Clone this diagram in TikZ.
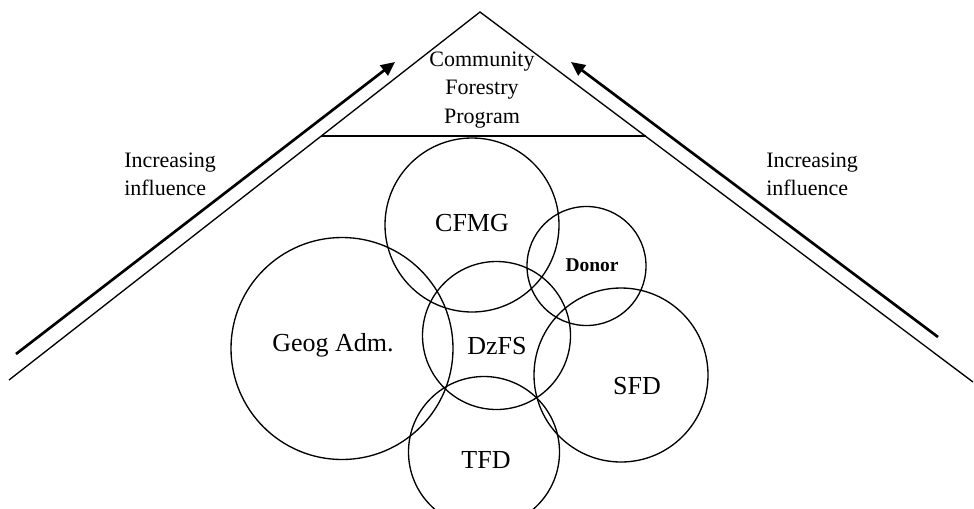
\documentclass[tikz,border=0pt]{standalone}
\usepackage{fontspec}
\setmainfont{Liberation Serif}
\usetikzlibrary{arrows.meta}
\begin{document}
\begin{tikzpicture}[x=0.75pt,y=-0.75pt,
  edge/.style={line width=1pt},
  influence/.style={line width=2pt,-{Triangle[length=10.5pt,width=9.5pt]}},
  actor/.style={circle,draw,line width=1pt,inner sep=0pt},
  actorlabel/.style={anchor=base,inner sep=0pt,font=\fontsize{19.5}{23}\selectfont},
  note/.style={anchor=west,inner sep=0pt,align=left,font=\fontsize{16.5}{21}\selectfont}]
\useasboundingbox (0,0) rectangle (974,508);
\clip (0,0) rectangle (974,508);

% pyramid outline and the program band at its top
\coordinate (apex) at (480,12);
\coordinate (baseL) at (9,380);
\coordinate (baseR) at (973,382);
\coordinate (bandL) at (321,136);
\coordinate (bandR) at (646,136);
\draw[edge] (baseL) -- (apex) -- (baseR);
\draw[edge] (bandL) -- (bandR);
\node[inner sep=0pt,align=center,font=\fontsize{16.5}{21.3}\selectfont] (cfp) at (482,90)
  {Community\\Forestry\\Program};

% influence arrows along both slopes
\coordinate (tailL) at (16,354);
\coordinate (tipL) at (395,62);
\coordinate (tailR) at (938,337);
\coordinate (tipR) at (571,62);
\draw[influence] (tailL) -- (tipL);
\draw[influence] (tailR) -- (tipR);
\node[note] (infL) at (124,174) {Increasing\\influence};
\node[note] (infR) at (766,174) {Increasing\\influence};

% overlapping actor circles
\node[actor,minimum size=130.5pt] (cfmg) at (472,225) {};
\node[actor,minimum size=89.25pt] (donor) at (586.5,266) {};
\node[actor,minimum size=166.5pt] (geog) at (342,348.5) {};
\node[actor,minimum size=111pt] (dzfs) at (496.5,335.5) {};
\node[actor,minimum size=130.5pt] (sfd) at (621,375) {};
\node[actor,minimum size=113.25pt] (tfd) at (484,452) {};

% actor labels
\node[actorlabel] (cfmgT) at (472,231.5) {CFMG};
\node[actorlabel,font=\fontsize{14.6}{18}\selectfont\bfseries] (donorT) at (592,271) {Donor};
\node[actorlabel] (geogT) at (333,351.5) {Geog Adm.};
\node[actorlabel] (dzfsT) at (497,354) {DzFS};
\node[actorlabel] (sfdT) at (637,394) {SFD};
\node[actorlabel] (tfdT) at (486,468) {TFD};
\end{tikzpicture}
\end{document}
